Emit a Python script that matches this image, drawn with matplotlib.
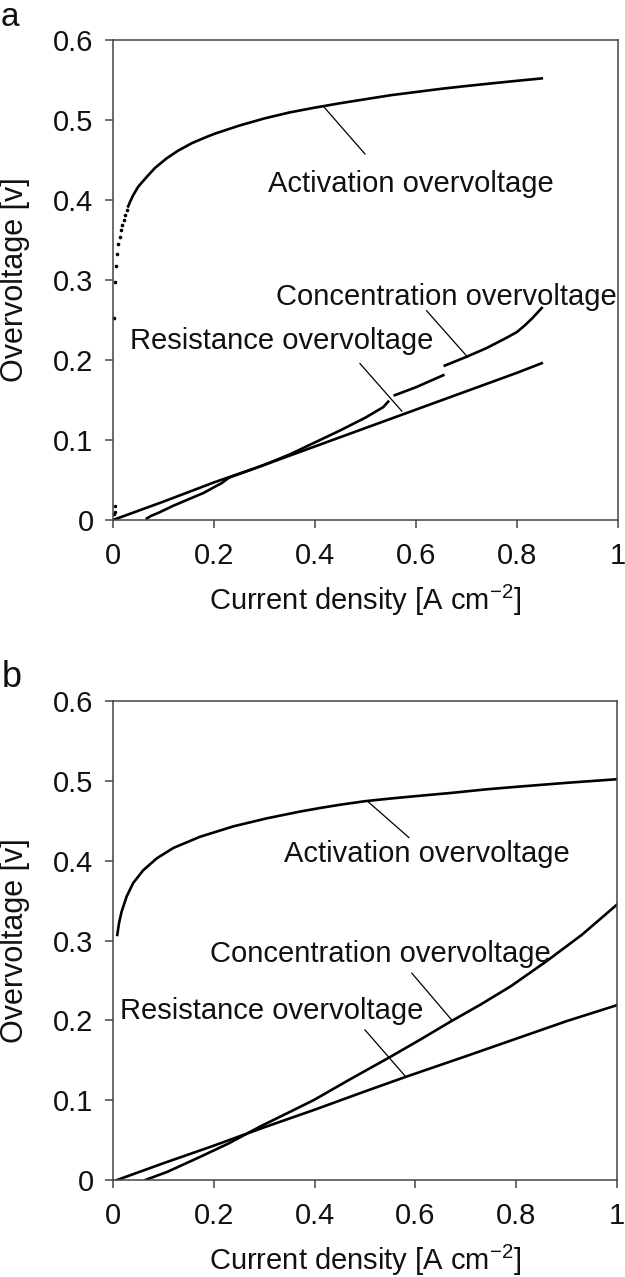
import matplotlib
matplotlib.use("Agg")
import matplotlib.pyplot as plt
import numpy as np

plt.rcParams['font.family'] = ['Liberation Sans', 'DejaVu Sans']

# ---------------- Panel a data ----------------
act_a_dots_x = [0.002, 0.004, 0.005, 0.007, 0.0105, 0.014, 0.016, 0.0185, 0.021, 0.024, 0.027]
act_a_dots_y = [0.2525, 0.297, 0.3175, 0.3325, 0.345, 0.354, 0.362, 0.369, 0.375, 0.381, 0.387]
act_a_x = [0.030, 0.034, 0.040, 0.050, 0.067, 0.083, 0.106, 0.129, 0.156, 0.182, 0.202,
           0.250, 0.300, 0.350, 0.400, 0.450, 0.500, 0.550, 0.600, 0.650, 0.700, 0.750,
           0.800, 0.849]
act_a_y = [0.392, 0.398, 0.406, 0.4167, 0.429, 0.440, 0.452, 0.4617, 0.471, 0.478, 0.483,
           0.493, 0.502, 0.5095, 0.5155, 0.521, 0.526, 0.531, 0.535, 0.539, 0.5425, 0.5458,
           0.549, 0.552]

res_a_x = [0.0, 0.1, 0.2, 0.3, 0.4, 0.5, 0.6, 0.7, 0.8, 0.849]
res_a_y = [0.0, 0.023, 0.047, 0.069, 0.092, 0.115, 0.138, 0.161, 0.184, 0.196]

conc_a_dots_x = [0.003, 0.003, 0.002]
conc_a_dots_y = [0.0175, 0.0100, 0.008]
conc_a_x = [0.067, 0.075, 0.090, 0.120, 0.150, 0.180, 0.200, 0.215, 0.230, 0.270, 0.300,
            0.350, 0.400, 0.450, 0.500, 0.535, 0.545, np.nan,
            0.558, 0.600, 0.654, np.nan,
            0.657, 0.700, 0.740, 0.780, 0.800, 0.815, 0.830, 0.849]
conc_a_y = [0.002, 0.005, 0.009, 0.018, 0.026, 0.034, 0.041, 0.046, 0.053, 0.062, 0.069,
            0.082, 0.097, 0.112, 0.128, 0.141, 0.148, np.nan,
            0.156, 0.166, 0.181, np.nan,
            0.193, 0.204, 0.215, 0.228, 0.235, 0.243, 0.252, 0.265]

# ---------------- Panel b data ----------------
act_b_x = [0.0085, 0.012, 0.017, 0.027, 0.040, 0.060, 0.087, 0.120, 0.173, 0.239, 0.305,
           0.371, 0.411, 0.450, 0.500, 0.550, 0.600, 0.670, 0.740, 0.800, 0.900, 1.000]
act_b_y = [0.307, 0.322, 0.336, 0.355, 0.372, 0.388, 0.403, 0.416, 0.430, 0.443, 0.453,
           0.4615, 0.466, 0.470, 0.4745, 0.4778, 0.4808, 0.4848, 0.4893, 0.4925, 0.4975, 0.502]

res_b_x = [0.008, 0.1, 0.2, 0.3, 0.4, 0.5, 0.58, 0.7, 0.8, 0.9, 1.0]
res_b_y = [0.0, 0.021, 0.043, 0.066, 0.088, 0.111, 0.129, 0.155, 0.177, 0.199, 0.219]

conc_b_x = [0.064, 0.107, 0.173, 0.230, 0.292, 0.350, 0.398, 0.470, 0.551, 0.610, 0.670,
            0.730, 0.790, 0.860, 0.930, 1.000]
conc_b_y = [0.0, 0.010, 0.029, 0.046, 0.067, 0.085, 0.100, 0.126, 0.1545, 0.176, 0.1985,
            0.220, 0.243, 0.274, 0.307, 0.345]

x_ticks = [0, 0.2, 0.4, 0.6, 0.8, 1]
x_tick_labels = ['0', '0.2', '0.4', '0.6', '0.8', '1']
y_ticks = [0, 0.1, 0.2, 0.3, 0.4, 0.5, 0.6]
y_tick_labels = ['0', '0.1', '0.2', '0.3', '0.4', '0.5', '0.6']

labels = ['Activation overvoltage', 'Concentration overvoltage', 'Resistance overvoltage']
xlabel = 'Current density [A cm$^{\\mathregular{-2}}$]'
ylabel = 'Overvoltage [v]'

W, H = 625, 1277
fig = plt.figure(figsize=(W / 100, H / 100), dpi=100)
FS = 21
TXT = '#111111'
SPINE = '#444444'


def style(ax):
    ax.set_xlim(0, 1)
    ax.set_ylim(0, 0.6)
    ax.set_xticks(x_ticks)
    ax.set_xticklabels(x_tick_labels)
    ax.set_yticks(y_ticks)
    ax.set_yticklabels(y_tick_labels)
    for s in ax.spines.values():
        s.set_color(SPINE)
        s.set_linewidth(1.1)
    ax.tick_params(axis='both', direction='out', length=6, width=1.1, color=SPINE,
                   labelsize=FS, labelcolor=TXT, top=False, right=False)
    ax.tick_params(axis='y', pad=8)
    ax.tick_params(axis='x', pad=10)
    ax.set_xlabel(xlabel, fontsize=FS, color=TXT, va='center')
    ax.xaxis.set_label_coords(0.5, -0.167)
    ax.set_ylabel(ylabel, fontsize=22, color=TXT, va='center')
    ax.yaxis.set_label_coords(-0.195, 0.5)


LW = 1.9
LEAD = 0.9

# Panel a
axa = fig.add_axes([113 / W, 1 - 520 / H, 505 / W, 480 / H])
style(axa)
axa.plot(act_a_dots_x, act_a_dots_y, 'k.', ms=3.2, clip_on=False)
axa.plot(act_a_x, act_a_y, color='k', lw=LW)
axa.plot(res_a_x, res_a_y, color='k', lw=LW)
axa.plot(conc_a_dots_x, conc_a_dots_y, 'k.', ms=3.0)
axa.plot(conc_a_x, conc_a_y, color='k', lw=LW)
axa.plot([0.416, 0.499], [0.5175, 0.4575], color='k', lw=LEAD)
axa.plot([0.621, 0.702], [0.2616, 0.2038], color='k', lw=LEAD)
axa.plot([0.489, 0.572], [0.1956, 0.136], color='k', lw=LEAD)
axa.text(0.590, 0.410, labels[0], fontsize=FS, color=TXT, ha='center', va='baseline')
axa.text(0.660, 0.269, labels[1], fontsize=FS, color=TXT, ha='center', va='baseline')
axa.text(0.3337, 0.214, labels[2], fontsize=FS, color=TXT, ha='center', va='baseline')

# Panel b
axb = fig.add_axes([113 / W, 1 - 1180 / H, 504 / W, 479 / H])
style(axb)
axb.plot(act_b_x, act_b_y, color='k', lw=LW)
axb.plot(res_b_x, res_b_y, color='k', lw=LW)
axb.plot(conc_b_x, conc_b_y, color='k', lw=LW)
axb.plot([0.505, 0.587], [0.4745, 0.429], color='k', lw=LEAD)
axb.plot([0.593, 0.672], [0.259, 0.2005], color='k', lw=LEAD)
axb.plot([0.500, 0.579], [0.188, 0.1307], color='k', lw=LEAD)
axb.text(0.623, 0.398, labels[0], fontsize=FS, color=TXT, ha='center', va='baseline')
axb.text(0.530, 0.2736, labels[1], fontsize=FS, color=TXT, ha='center', va='baseline')
axb.text(0.3145, 0.2018, labels[2], fontsize=FS, color=TXT, ha='center', va='baseline')

fig.text(1 / W, 1 - 26 / H, 'a', fontsize=24, color=TXT, ha='left', va='baseline')
fig.text(2 / W, 1 - 687 / H, 'b', fontsize=26, color=TXT, ha='left', va='baseline')

fig.savefig('out.png', dpi=100)
